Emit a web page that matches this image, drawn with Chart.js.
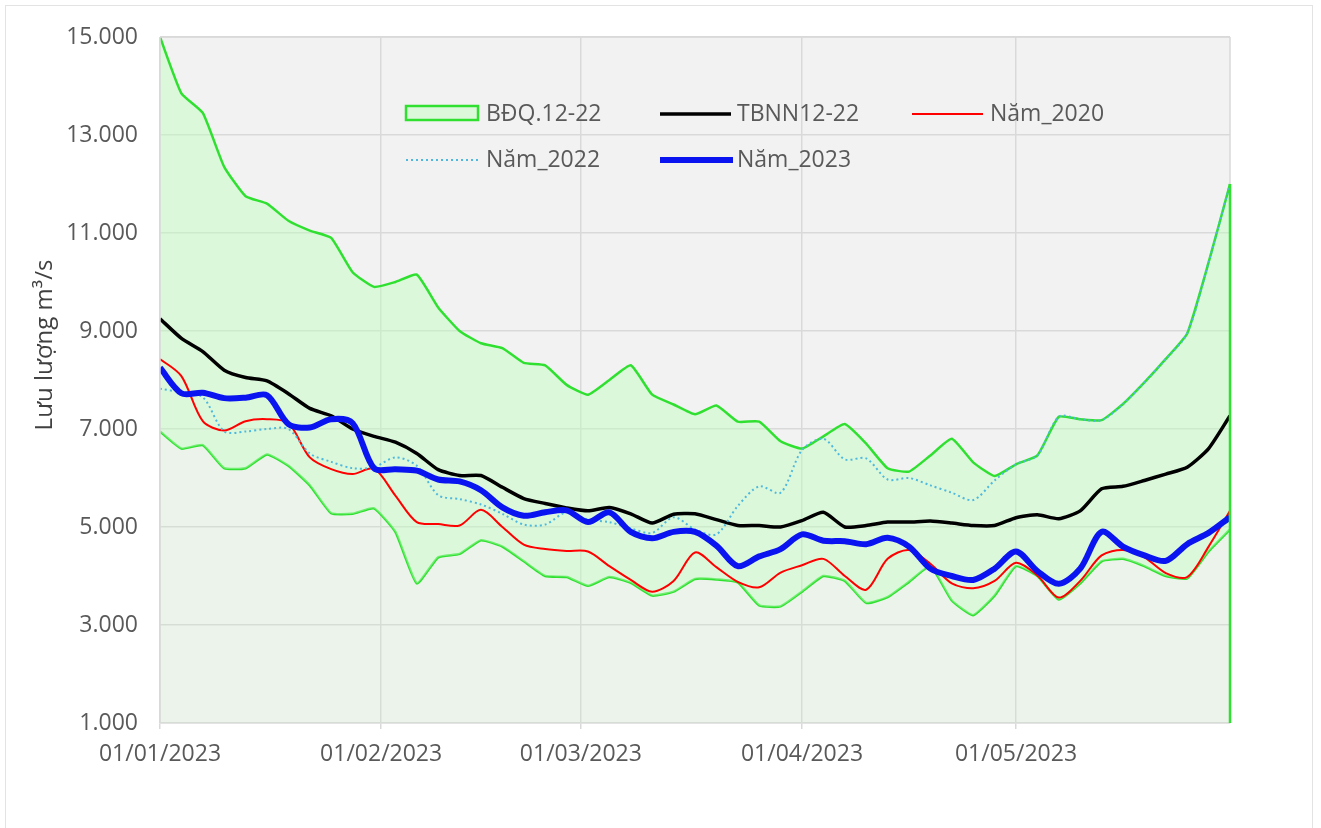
<!DOCTYPE html>
<html>
<head>
<meta charset="utf-8">
<script src="https://cdn.jsdelivr.net/npm/chart.js@4.4.0/dist/chart.umd.min.js"></script>
<style>
  html, body { margin: 0; padding: 0; background: #fff; }
  canvas { display: block; }
</style>
</head>
<body>
<canvas id="chart" width="1321" height="828"></canvas>
<script>
// day offsets from 01/01/2023, sampled every 3 days
const days = [0,3,6,9,12,15,18,21,24,27,30,33,36,39,42,45,48,51,54,57,60,63,66,69,72,75,78,81,84,87,90,93,96,99,102,105,108,111,114,117,120,123,126,129,132,135,138,141,144,147,150];

// BĐQ.12-22 band: upper and lower envelope
const maxVals = [15000,13850,13450,12350,11750,11600,11250,11050,10900,10200,9900,10000,10150,9480,9000,8750,8650,8350,8300,7900,7700,8000,8300,7700,7500,7300,7480,7150,7150,6750,6600,6850,7100,6700,6200,6130,6460,6800,6320,6040,6280,6460,7250,7200,7180,7510,7950,8430,8950,10400,12000];
const minVals = [6950,6600,6670,6200,6200,6480,6250,5850,5280,5270,5380,4900,3850,4380,4450,4730,4600,4300,4000,3980,3800,3980,3860,3600,3680,3940,3930,3870,3400,3380,3680,4000,3900,3450,3570,3880,4200,3500,3200,3600,4200,4000,3520,3850,4300,4350,4200,4000,3950,4500,4950];

const tbnn = [9250,8850,8580,8200,8050,7980,7720,7420,7270,7000,6850,6730,6500,6170,6050,6050,5810,5580,5480,5390,5330,5400,5270,5080,5260,5270,5150,5030,5030,5000,5130,5300,5000,5030,5100,5100,5120,5080,5030,5030,5190,5250,5170,5330,5780,5830,5950,6080,6220,6600,7270];
const y2020 = [8430,8080,7160,6970,7160,7200,7120,6420,6180,6080,6190,5640,5100,5060,5030,5350,5000,4640,4550,4510,4500,4200,3920,3680,3900,4480,4180,3880,3770,4070,4220,4350,4000,3720,4350,4530,4250,3850,3750,3900,4270,4010,3560,3900,4420,4530,4380,4060,3980,4600,5330];
const y2022 = [7820,7750,7650,6950,6950,7000,7000,6500,6330,6200,6220,6420,6250,5650,5570,5460,5270,5050,5050,5300,5150,5100,4970,4880,5200,4950,4850,5430,5830,5700,6570,6800,6380,6400,5970,6000,5850,5700,5550,5950,6280,6460,7250,7200,7180,7510,7950,8430,8950,10400,12000];
const y2023 = [8250,7730,7740,7630,7640,7690,7100,7030,7200,7120,6200,6180,6150,5970,5930,5750,5400,5230,5300,5340,5100,5300,4900,4770,4900,4900,4620,4200,4400,4550,4850,4720,4710,4650,4780,4600,4150,4000,3920,4150,4500,4100,3840,4150,4900,4600,4420,4310,4650,4880,5200];

const monthTicks = [0, 31, 59, 90, 120];
const monthLabels = ['01/01/2023', '01/02/2023', '01/03/2023', '01/04/2023', '01/05/2023'];
const yTicks = [1000, 3000, 5000, 7000, 9000, 11000, 13000, 15000];

const GREEN = '#30e030';
const TXT = '#595959';
const GRID = '#d9d9d9';

const pts = (vals) => days.map((d, i) => ({ x: d, y: vals[i] }));
const fmt = (v) => String(v).replace(/\B(?=(\d{3})+(?!\d))/g, '.');

// background, borders, legend, axis title
const decor = {
  id: 'decor',
  beforeDraw(chart) {
    const { ctx, chartArea: a } = chart;
    ctx.save();
    ctx.fillStyle = '#fff';
    ctx.fillRect(0, 0, chart.width, chart.height);
    ctx.strokeStyle = '#e3e3e3';
    ctx.lineWidth = 1;
    ctx.strokeRect(5.5, 5.5, 1307, 840);
    ctx.fillStyle = '#f2f2f2';
    ctx.fillRect(a.left, a.top, a.right - a.left, a.bottom - a.top);
    ctx.restore();
  },
  afterDatasetsDraw(chart) {
    const { ctx, chartArea: a, scales } = chart;
    const last = days.length - 1;
    const x = scales.x.getPixelForValue(days[last]);
    ctx.save();
    ctx.strokeStyle = GRID;
    ctx.lineWidth = 1.5;
    ctx.beginPath();
    ctx.moveTo(a.left, a.top); ctx.lineTo(a.right, a.top);
    ctx.moveTo(a.right, a.top); ctx.lineTo(a.right, a.bottom);
    ctx.moveTo(a.left, a.top); ctx.lineTo(a.left, a.bottom);
    ctx.stroke();
    // right edge of the band area
    ctx.strokeStyle = GREEN;
    ctx.lineWidth = 2.5;
    ctx.beginPath();
    ctx.moveTo(x, scales.y.getPixelForValue(maxVals[last]));
    ctx.lineTo(x, a.bottom);
    ctx.stroke();
    ctx.restore();
  },
  afterDraw(chart) {
    const { ctx } = chart;
    ctx.save();
    ctx.font = '23px "Open Sans"';
    ctx.fillStyle = TXT;
    ctx.textBaseline = 'middle';
    const line = (x1, x2, y, color, w, dash) => {
      ctx.beginPath();
      ctx.setLineDash(dash || []);
      ctx.strokeStyle = color;
      ctx.lineWidth = w;
      ctx.moveTo(x1, y); ctx.lineTo(x2, y);
      ctx.stroke();
      ctx.setLineDash([]);
    };
    // row 1
    ctx.fillStyle = 'rgba(190,255,190,0.45)';
    ctx.fillRect(406, 106, 72, 14);
    ctx.strokeStyle = GREEN; ctx.lineWidth = 2.5;
    ctx.strokeRect(406, 106, 72, 14);
    ctx.fillStyle = TXT;
    ctx.fillText('BĐQ.12-22', 486, 114);
    line(660, 731, 114, '#000', 3.5);
    ctx.fillText('TBNN12-22', 737, 114);
    line(912, 983, 114, '#ff0000', 2);
    ctx.fillText('Năm_2020', 990, 114);
    // row 2
    line(406, 478, 160, '#4fb8dd', 2, [2, 3]);
    ctx.fillText('Năm_2022', 486, 160);
    line(660, 733, 160, '#0a14f0', 6);
    ctx.fillText('Năm_2023', 737, 160);
    // axis title
    ctx.translate(45, 345);
    ctx.rotate(-Math.PI / 2);
    ctx.textAlign = 'center';
    ctx.font = '24px "Open Sans"';
    ctx.fillStyle = '#404040';
    ctx.fillText('Lưu lượng m³/s', 0, 0);
    ctx.restore();
  }
};

new Chart(document.getElementById('chart'), {
  type: 'line',
  data: {
    datasets: [
      { label: 'Năm_2023', data: pts(y2023), borderColor: '#0a14f0', borderWidth: 6, tension: 0.3, fill: false },
      { label: 'Năm_2022', data: pts(y2022), borderColor: '#4fb8dd', borderWidth: 2, borderDash: [2, 3], tension: 0.3, fill: false },
      { label: 'Năm_2020', data: pts(y2020), borderColor: '#ff0000', borderWidth: 2, tension: 0.3, fill: false },
      { label: 'TBNN12-22', data: pts(tbnn), borderColor: '#000000', borderWidth: 3.5, tension: 0.2, fill: false },
      { label: 'BĐQ.12-22', data: pts(maxVals), borderColor: GREEN, borderWidth: 2.5, tension: 0.15,
        fill: '+1', backgroundColor: 'rgba(190,255,190,0.45)' },
      { label: 'BĐQ min', data: pts(minVals), borderColor: GREEN, borderWidth: 2.5, tension: 0.15,
        fill: 'start', backgroundColor: 'rgba(190,255,190,0.12)' }
    ]
  },
  options: {
    responsive: false,
    animation: false,
    devicePixelRatio: 1,
    layout: { padding: { top: 37, right: 91, bottom: 0, left: 0 } },
    elements: { point: { radius: 0, hoverRadius: 0 } },
    plugins: { legend: { display: false }, tooltip: { enabled: false } },
    scales: {
      x: {
        type: 'linear',
        min: 0,
        max: 150,
        afterBuildTicks: (s) => { s.ticks = monthTicks.map(v => ({ value: v })); },
        afterFit: (s) => { s.height = 105; },
        ticks: {
          autoSkip: false,
          maxRotation: 0,
          padding: 12,
          color: TXT,
          font: { family: 'Open Sans', size: 23 },
          callback: (v) => monthLabels[monthTicks.indexOf(v)]
        },
        grid: { color: GRID, lineWidth: 1.5, tickLength: 6 },
        border: { color: GRID, width: 1.5 }
      },
      y: {
        min: 1000,
        max: 15000,
        afterBuildTicks: (s) => { s.ticks = yTicks.map(v => ({ value: v })); },
        afterFit: (s) => { s.width = 160; },
        ticks: {
          padding: 22,
          color: TXT,
          font: { family: 'Open Sans', size: 23 },
          callback: (v) => fmt(v)
        },
        grid: { color: GRID, lineWidth: 1.5, drawTicks: false },
        border: { display: false }
      }
    }
  },
  plugins: [decor]
});
</script>
</body>
</html>
